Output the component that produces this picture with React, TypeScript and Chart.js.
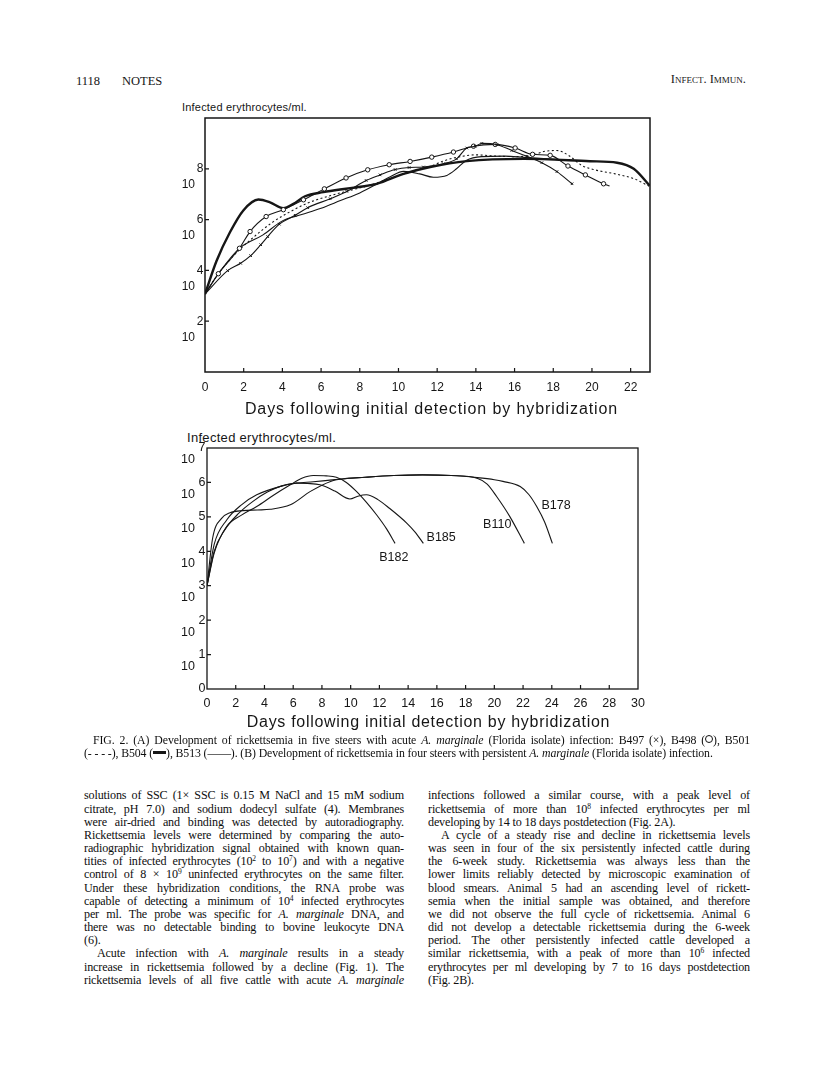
import React, { useEffect, useRef } from "react";
import { Chart, registerables } from "chart.js";

Chart.register(...registerables);

// ---------- Fig. 2A : acute infection (days, log10 infected erythrocytes/ml) ----------
const b497Days = [0, 1.17, 1.84, 2.36, 2.88, 3.24, 3.84, 4.66, 5.31, 6.47, 7.33, 8.33, 9.05, 9.83, 10.55, 11.29, 12.33, 13.0, 13.53, 13.97, 14.31, 15.09, 15.86, 16.64, 17.41, 18.19, 18.97];
const b497Log = [3.07, 3.99, 4.28, 4.58, 5.01, 5.33, 5.82, 6.17, 6.47, 6.82, 7.11, 7.54, 7.76, 7.97, 8.05, 8.07, 8.2, 8.39, 8.82, 8.89, 9.0, 8.95, 8.72, 8.49, 8.24, 7.89, 7.41];

const b498Days = [0, 0.69, 1.78, 2.33, 3.16, 4.05, 5.09, 6.17, 7.29, 8.41, 9.52, 10.6, 11.72, 12.84, 13.88, 15.0, 16.03, 16.93, 17.84, 18.76, 19.66, 20.6, 20.91];
const b498Log = [3.07, 3.87, 4.87, 5.53, 6.12, 6.39, 6.78, 7.21, 7.64, 7.96, 8.16, 8.29, 8.46, 8.66, 8.89, 8.96, 8.82, 8.57, 8.53, 8.11, 7.76, 7.41, 7.32];

const b501Days = [0, 0.69, 1.5, 2.5, 3.5, 4.5, 5.3, 6.5, 7.5, 8.5, 9.5, 10.5, 11.5, 12.3, 13, 14, 15, 16, 17, 17.5, 18.19, 18.79, 19.48, 20.2, 21.2, 22.2, 23];
const b501Log = [3.07, 3.87, 4.6, 5.3, 5.9, 6.35, 6.65, 6.95, 7.15, 7.35, 7.6, 7.85, 8.05, 8.3, 8.45, 8.55, 8.5, 8.48, 8.55, 8.68, 8.72, 8.53, 8.13, 7.95, 7.8, 7.6, 7.3];

const b504Days = [0, 0.6, 1.29, 1.98, 2.76, 3.36, 4.05, 4.57, 5.17, 6.12, 7.5, 8.88, 10.26, 11.64, 13.53, 16.47, 19.9, 21.3, 22.16, 22.98];
const b504Log = [3.07, 4.38, 5.5, 6.36, 6.79, 6.68, 6.45, 6.62, 6.92, 7.08, 7.24, 7.41, 7.8, 8.07, 8.3, 8.39, 8.3, 8.24, 8.0, 7.34];

const b513Days = [0, 0.69, 1.78, 3.0, 4.0, 5.0, 6.0, 7.0, 8.0, 9.0, 9.6, 10.26, 11.1, 11.8, 12.5, 13.0, 13.5, 14.3, 15.5, 16.5, 17.5, 18.5];
const b513Log = [3.07, 3.87, 4.87, 5.4, 5.95, 6.2, 6.45, 6.75, 7.05, 7.45, 7.7, 7.9, 7.8, 7.67, 7.74, 8.0, 8.33, 8.48, 8.5, 8.45, 8.4, 8.35];

const xTicksA = [0, 2, 4, 6, 8, 10, 12, 14, 16, 18, 20, 22];
const yTicksA = [2, 4, 6, 8];

// ---------- Fig. 2B : persistent infection ----------
const b182Days = [0, 0.5, 1.37, 2.4, 3.46, 4.6, 5.8, 6.6, 7.4, 8.3, 9.0, 9.7, 10.4, 11.1, 11.8, 12.5, 13.09];
const b182Log = [3.0, 3.95, 4.72, 5.05, 5.3, 5.62, 5.93, 6.12, 6.2, 6.19, 6.15, 6.0, 5.74, 5.42, 5.06, 4.65, 4.23];

const b185Days = [0, 0.5, 1.37, 2.4, 3.46, 5.08, 6.24, 7.0, 7.87, 8.9, 9.95, 10.5, 11.1, 11.9, 12.7, 13.9, 14.5, 15.06];
const b185Log = [3.0, 4.2, 4.91, 5.35, 5.64, 5.88, 5.98, 5.97, 5.93, 5.75, 5.52, 5.6, 5.64, 5.5, 5.25, 4.82, 4.55, 4.23];

const b110Days = [0, 0.4, 1.0, 1.6, 2.5, 3.5, 4.4, 5.8, 7.2, 8.6, 9.4, 11, 13, 15, 17, 18.8, 19.5, 20.16, 21.09, 22.09];
const b110Log = [3.0, 4.4, 4.95, 5.12, 5.18, 5.2, 5.22, 5.35, 5.74, 6.03, 6.1, 6.15, 6.2, 6.22, 6.2, 6.12, 5.95, 5.59, 5.0, 4.23];

const b178Days = [0, 0.5, 1.2, 2.2, 3.2, 4.2, 5.2, 6.2, 7.4, 8.4, 9.4, 11, 13, 15, 17, 18.8, 20.0, 20.6, 21.8, 22.4, 22.95, 23.5, 24.04];
const b178Log = [3.0, 4.0, 4.6, 5.1, 5.45, 5.72, 5.9, 5.98, 6.02, 6.06, 6.1, 6.15, 6.2, 6.22, 6.2, 6.14, 6.08, 6.03, 5.88, 5.65, 5.3, 4.85, 4.23];

const xTicksB = [0, 2, 4, 6, 8, 10, 12, 14, 16, 18, 20, 22, 24, 26, 28, 30];
const yTicksB = [0, 1, 2, 3, 4, 5, 6, 7];

const seriesNamesB = ["B182", "B185", "B110", "B178"];
const nameDaysB = [13.0, 16.3, 20.2, 24.3];
const nameLogB = [3.81, 4.39, 4.78, 5.32];

const X_TITLE = "Days following initial detection by hybridization";
const Y_TITLE = "Infected erythrocytes/ml.";

// ---------- styling ----------
const INK = "#161616";
const SANS = '"Liberation Sans", Arial, sans-serif';
const SERIF = '"Liberation Serif", "Times New Roman", serif';

const pts = (xs: number[], ys: number[]) => xs.map((x, i) => ({ x, y: ys[i] }));

type FrameOpts = {
  xTicks: number[];
  yTicks: number[];
  tickLen: number;
  frameWidth: number;
  yFont: number;
  expDx: number;
  expDy: number;
  baseDx: number;
  baseDy: number;
  titleSize: number;
  titleLs: number;
  titleDx: number;
  titleDy: number;
  names?: string[];
  nameX?: number[];
  nameY?: number[];
};

const makeFrame = (o: FrameOpts) => ({
  id: "frame",
  afterDraw(chart: any) {
    const { ctx, chartArea: a } = chart;
    const xs = chart.scales.x;
    const ys = chart.scales.y;
    ctx.save();
    ctx.strokeStyle = INK;
    ctx.lineWidth = o.frameWidth;
    ctx.strokeRect(a.left, a.top, a.right - a.left, a.bottom - a.top);
    ctx.lineWidth = 1.2;
    ctx.beginPath();
    o.xTicks.forEach((v) => {
      if (v <= xs.min || v >= xs.max) return;
      const px = xs.getPixelForValue(v);
      ctx.moveTo(px, a.bottom);
      ctx.lineTo(px, a.bottom - o.tickLen);
    });
    o.yTicks.forEach((v) => {
      if (v <= ys.min || v >= ys.max) return;
      const py = ys.getPixelForValue(v);
      ctx.moveTo(a.left, py);
      ctx.lineTo(a.left + o.tickLen, py);
    });
    ctx.stroke();

    ctx.fillStyle = INK;
    ctx.font = `${o.yFont}px ${SANS}`;
    ctx.textBaseline = "middle";
    o.yTicks.forEach((v) => {
      const py = ys.getPixelForValue(v);
      ctx.textAlign = "center";
      ctx.fillText(String(v), a.left + o.expDx, py + o.expDy);
      if (v > 0) {
        ctx.textAlign = "right";
        ctx.fillText("10", a.left + o.baseDx, py + o.baseDy);
      }
    });

    ctx.font = `${o.titleSize}px ${SANS}`;
    ctx.textAlign = "center";
    (ctx as any).letterSpacing = `${o.titleLs}px`;
    ctx.fillText(X_TITLE, (a.left + a.right) / 2 + o.titleDx, a.bottom + o.titleDy);
    (ctx as any).letterSpacing = "0px";

    if (o.names && o.nameX && o.nameY) {
      ctx.font = `12.5px ${SANS}`;
      o.names.forEach((n, i) => {
        ctx.fillText(n, xs.getPixelForValue(o.nameX![i]), ys.getPixelForValue(o.nameY![i]));
      });
    }
    ctx.restore();
  },
});

const baseLine = {
  borderColor: INK,
  backgroundColor: INK,
  borderWidth: 1.1,
  pointRadius: 0,
  fill: false,
  cubicInterpolationMode: "monotone" as const,
};

function buildConfigA() {
  return {
    type: "line" as const,
    data: {
      datasets: [
        {
          ...baseLine,
          label: "B497",
          data: pts(b497Days, b497Log),
          pointStyle: "crossRot",
          pointRadius: (c: any) => (c.dataIndex > 0 ? 1.8 : 0),
          pointBorderWidth: 1,
        },
        {
          ...baseLine,
          label: "B498",
          data: pts(b498Days, b498Log),
          pointStyle: "circle",
          pointRadius: (c: any) => (c.dataIndex > 0 && c.dataIndex < b498Days.length - 1 ? 2.2 : 0),
          pointBackgroundColor: "#fff",
          pointBorderColor: INK,
          pointBorderWidth: 1,
        },
        { ...baseLine, label: "B501", data: pts(b501Days, b501Log), borderDash: [2, 2.5] },
        { ...baseLine, label: "B504", data: pts(b504Days, b504Log), borderWidth: 2.4 },
        { ...baseLine, label: "B513", data: pts(b513Days, b513Log) },
      ],
    },
    options: {
      animation: false as const,
      responsive: false,
      maintainAspectRatio: false,
      layout: { padding: { left: 0, top: 28, right: 20, bottom: 0 } },
      plugins: { legend: { display: false }, tooltip: { enabled: false } },
      scales: {
        x: {
          type: "linear" as const,
          min: 0,
          max: 23,
          grid: { display: false, drawTicks: false },
          border: { display: false },
          afterBuildTicks: (s: any) => {
            s.ticks = xTicksA.map((v) => ({ value: v }));
          },
          afterFit: (s: any) => {
            s.height = 58;
          },
          ticks: { padding: 8, color: INK, font: { family: SANS, size: 12 }, maxRotation: 0, autoSkip: false },
        },
        y: {
          type: "linear" as const,
          min: 0,
          max: 10,
          grid: { display: false, drawTicks: false },
          border: { display: false },
          ticks: { display: false },
          afterFit: (s: any) => {
            s.width = 55;
          },
        },
      },
    },
    plugins: [
      makeFrame({
        xTicks: xTicksA,
        yTicks: yTicksA,
        tickLen: 4,
        frameWidth: 1.5,
        yFont: 12,
        expDx: -5,
        expDy: 0,
        baseDx: -10,
        baseDy: 16,
        titleSize: 16,
        titleLs: 0.9,
        titleDx: 4,
        titleDy: 38,
      }),
    ],
  };
}

function buildConfigB() {
  return {
    type: "line" as const,
    data: {
      datasets: [
        { ...baseLine, label: "B182", data: pts(b182Days, b182Log) },
        { ...baseLine, label: "B185", data: pts(b185Days, b185Log) },
        { ...baseLine, label: "B110", data: pts(b110Days, b110Log) },
        { ...baseLine, label: "B178", data: pts(b178Days, b178Log) },
      ],
    },
    options: {
      animation: false as const,
      responsive: false,
      maintainAspectRatio: false,
      layout: { padding: { left: 0, top: 18, right: 22, bottom: 0 } },
      plugins: { legend: { display: false }, tooltip: { enabled: false } },
      scales: {
        x: {
          type: "linear" as const,
          min: 0,
          max: 30,
          grid: { display: false, drawTicks: false },
          border: { display: false },
          afterBuildTicks: (s: any) => {
            s.ticks = xTicksB.map((v) => ({ value: v }));
          },
          afterFit: (s: any) => {
            s.height = 51;
          },
          ticks: { padding: 7, color: INK, font: { family: SANS, size: 12.5 }, maxRotation: 0, autoSkip: false },
        },
        y: {
          type: "linear" as const,
          min: 0,
          max: 7,
          grid: { display: false, drawTicks: false },
          border: { display: false },
          ticks: { display: false },
          afterFit: (s: any) => {
            s.width = 57;
          },
        },
      },
    },
    plugins: [
      makeFrame({
        xTicks: xTicksB,
        yTicks: yTicksB,
        tickLen: 4,
        frameWidth: 1.3,
        yFont: 12.5,
        expDx: -5,
        expDy: 0,
        baseDx: -12,
        baseDy: 12,
        titleSize: 16,
        titleLs: 0.7,
        titleDx: 6,
        titleDy: 34,
        names: seriesNamesB,
        nameX: nameDaysB,
        nameY: nameLogB,
      }),
    ],
  };
}

function ChartCanvas(props: { left: number; top: number; width: number; height: number; build: () => any }) {
  const ref = useRef<HTMLCanvasElement | null>(null);
  useEffect(() => {
    if (!ref.current) return;
    const chart = new Chart(ref.current, props.build());
    return () => chart.destroy();
  }, []);
  return (
    <canvas
      ref={ref}
      width={props.width}
      height={props.height}
      style={{ position: "absolute", left: props.left, top: props.top, width: props.width, height: props.height, display: "block" }}
    />
  );
}

const Sup = ({ children }: { children: React.ReactNode }) => (
  <sup style={{ fontSize: "0.62em", lineHeight: 0, verticalAlign: "0.5em" }}>{children}</sup>
);

function TextLine(props: {
  x: number;
  y: number;
  w: number;
  size: number;
  lh: number;
  ls?: number;
  indent?: number;
  last?: boolean;
  children: React.ReactNode;
}) {
  const ind = props.indent || 0;
  return (
    <div
      style={{
        position: "absolute",
        left: props.x + ind,
        top: props.y - props.lh / 2,
        width: props.w - ind,
        height: props.lh,
        lineHeight: `${props.lh}px`,
        fontSize: props.size,
        fontFamily: SERIF,
        letterSpacing: props.ls || 0,
        whiteSpace: "nowrap",
        textAlign: props.last ? "left" : "justify",
        textAlignLast: props.last ? "left" : "justify",
        color: "#0e0e0e",
      }}
    >
      {props.children}
    </div>
  );
}

const leftLines: { t: React.ReactNode; indent?: number; last?: boolean }[] = [
  { t: "solutions of SSC (1× SSC is 0.15 M NaCl and 15 mM sodium" },
  { t: "citrate, pH 7.0) and sodium dodecyl sulfate (4). Membranes" },
  { t: "were air-dried and binding was detected by autoradiography." },
  { t: "Rickettsemia levels were determined by comparing the auto-" },
  { t: "radiographic hybridization signal obtained with known quan-" },
  { t: <>tities of infected erythrocytes (10<Sup>2</Sup> to 10<Sup>7</Sup>) and with a negative</> },
  { t: <>control of 8 × 10<Sup>9</Sup> uninfected erythrocytes on the same filter.</> },
  { t: "Under these hybridization conditions, the RNA probe was" },
  { t: <>capable of detecting a minimum of 10<Sup>4</Sup> infected erythrocytes</> },
  { t: <>per ml. The probe was specific for <i>A. marginale</i> DNA, and</> },
  { t: "there was no detectable binding to bovine leukocyte DNA" },
  { t: "(6).", last: true },
  { t: <>Acute infection with <i>A. marginale</i> results in a steady</>, indent: 13 },
  { t: "increase in rickettsemia followed by a decline (Fig. 1). The" },
  { t: <>rickettsemia levels of all five cattle with acute <i>A. marginale</i></> },
];

const rightLines: { t: React.ReactNode; indent?: number; last?: boolean }[] = [
  { t: "infections followed a similar course, with a peak level of" },
  { t: <>rickettsemia of more than 10<Sup>8</Sup> infected erythrocytes per ml</> },
  { t: "developing by 14 to 18 days postdetection (Fig. 2A).", last: true },
  { t: "A cycle of a steady rise and decline in rickettsemia levels", indent: 13 },
  { t: "was seen in four of the six persistently infected cattle during" },
  { t: "the 6-week study. Rickettsemia was always less than the" },
  { t: "lower limits reliably detected by microscopic examination of" },
  { t: "blood smears. Animal 5 had an ascending level of rickett-" },
  { t: "semia when the initial sample was obtained, and therefore" },
  { t: "we did not observe the full cycle of rickettsemia. Animal 6" },
  { t: "did not develop a detectable rickettsemia during the 6-week" },
  { t: "period. The other persistently infected cattle developed a" },
  { t: <>similar rickettsemia, with a peak of more than 10<Sup>6</Sup> infected</> },
  { t: "erythrocytes per ml developing by 7 to 16 days postdetection" },
  { t: "(Fig. 2B).", last: true },
];

export default function App() {
  const bodySize = 12.1;
  const bodyLs = -0.15;
  const bodyLh = 13.17;
  const firstY = 796;
  const capSize = 11.8;
  const capLs = -0.1;
  return (
    <div style={{ position: "absolute", left: 0, top: 0, width: 816, height: 1076, background: "#fff", overflow: "hidden" }}>
      {/* running head */}
      <div style={{ position: "absolute", left: 76, top: 73, fontFamily: SERIF, fontSize: 12.5, lineHeight: "16px", color: INK }}>1118</div>
      <div style={{ position: "absolute", left: 122, top: 73, fontFamily: SERIF, fontSize: 12.5, lineHeight: "16px", color: INK }}>NOTES</div>
      <div
        style={{
          position: "absolute",
          right: 816 - 746,
          top: 71,
          fontFamily: SERIF,
          fontSize: 12.5,
          lineHeight: "16px",
          fontVariant: "small-caps",
          color: INK,
        }}
      >
        Infect. Immun.
      </div>

      {/* Fig 2A */}
      <div style={{ position: "absolute", left: 182, top: 100, fontFamily: SANS, fontSize: 11, lineHeight: "14px", letterSpacing: 0.2, color: INK }}>
        {Y_TITLE}
      </div>
      <ChartCanvas left={150} top={90} width={520} height={340} build={buildConfigA} />

      {/* Fig 2B */}
      <div style={{ position: "absolute", left: 187, top: 430, fontFamily: SANS, fontSize: 13, lineHeight: "16px", letterSpacing: 0.3, color: INK }}>
        {Y_TITLE}
      </div>
      <ChartCanvas left={150} top={430} width={510} height={310} build={buildConfigB} />

      {/* caption */}
      <TextLine x={84} y={740} w={666} size={capSize} ls={capLs} lh={12.5} indent={9}>
        FIG. 2. (A) Development of rickettsemia in five steers with acute <i>A. marginale</i> (Florida isolate) infection: B497 (×), B498 (
        <span style={{ display: "inline-block", width: 6, height: 6, border: "1px solid #111", borderRadius: "50%", verticalAlign: "0.05em" }} />
        ), B501
      </TextLine>
      <TextLine x={84} y={753} w={666} size={capSize} ls={capLs} lh={12.5} last>
        (- - - -), B504 (
        <span style={{ display: "inline-block", width: 13, height: 3, background: INK, verticalAlign: "0.25em" }} />
        ), B513 (——). (B) Development of rickettsemia in four steers with persistent <i>A. marginale</i> (Florida isolate) infection.
      </TextLine>

      {/* body text, two columns */}
      {leftLines.map((l, i) => (
        <TextLine key={"l" + i} x={84} y={firstY + i * bodyLh} w={320} size={bodySize} ls={bodyLs} lh={bodyLh} indent={l.indent} last={l.last}>
          {l.t}
        </TextLine>
      ))}
      {rightLines.map((l, i) => (
        <TextLine key={"r" + i} x={428} y={firstY + i * bodyLh} w={322} size={bodySize} ls={bodyLs} lh={bodyLh} indent={l.indent} last={l.last}>
          {l.t}
        </TextLine>
      ))}
    </div>
  );
}
